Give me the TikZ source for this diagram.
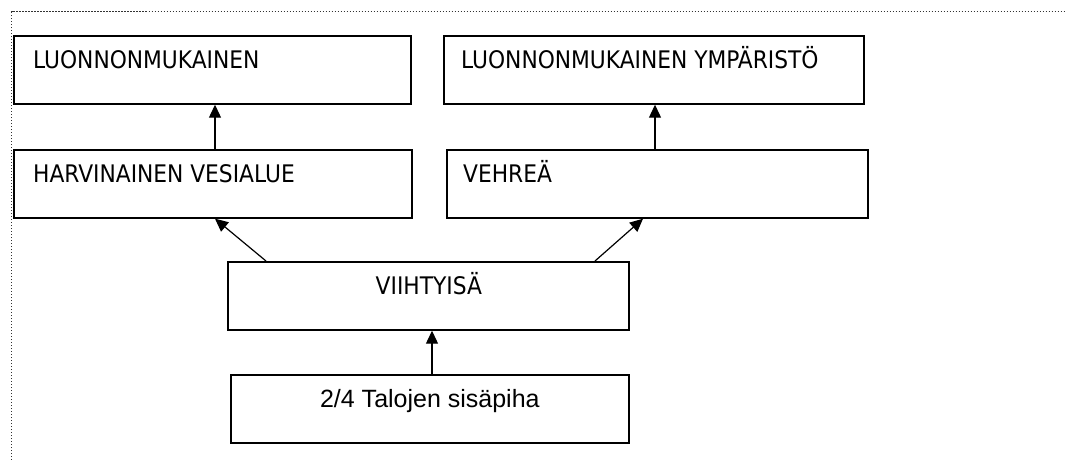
\documentclass[tikz,border=0pt]{standalone}
\usepackage{fontspec}
\usetikzlibrary{arrows.meta,calc}
\newfontfamily\boxfont{DejaVu Sans Condensed}
\newfontfamily\arialfont{Liberation Sans}
\begin{document}
\begin{tikzpicture}[x=1pt,y=-1pt,
  box/.style={draw=black,line width=1.7pt,rectangle,anchor=north west,inner sep=0pt,minimum height=68pt},
  lbl/.style={inner sep=0pt,font=\boxfont\fontsize{24.2}{27}\selectfont},
  albl/.style={inner sep=0pt,font=\arialfont\fontsize{25}{28}\selectfont},
  arr/.style={line width=1.2pt,-{Triangle[length=13pt,width=12pt]}},
  frame/.style={draw=black!80,line width=1pt,dash pattern=on 1.2pt off 1.8pt}]
\useasboundingbox (0,0) rectangle (1065,460);
\draw[frame] (11.5,460) -- (11.5,12) -- (1065,12);
% boxes
\node[box,minimum width=397pt] (l) at (13,35) {};
\node[box,minimum width=398pt] (h) at (13,149) {};
\node[box,minimum width=420pt] (y) at (443,35) {};
\node[box,minimum width=421pt] (v) at (446,149) {};
\node[box,minimum width=401pt] (w) at (227,261) {};
\node[box,minimum width=398pt] (t) at (230,374) {};
% labels
\node[lbl,anchor=base west] (lt) at ($(l.north west)+(20,33)$) {LUONNONMUKAINEN};
\node[lbl,anchor=base west] (ht) at ($(h.north west)+(20,33)$) {HARVINAINEN VESIALUE};
\node[lbl,anchor=base west] (yt) at ($(y.north west)+(18,33)$) {LUONNONMUKAINEN YMPÄRISTÖ};
\node[lbl,anchor=base west] (vt) at ($(v.north west)+(17,33)$) {VEHREÄ};
\node[lbl,anchor=base] (wt) at ($(w.north)+(0.5,33)$) {VIIHTYISÄ};
\node[albl,anchor=base] (tt) at ($(t.north)+(0,33)$) {2/4 Talojen sisäpiha};
% connectors
\coordinate (hup) at ($(h.north west)+(202,0)$);
\coordinate (vup) at ($(v.north west)+(209,0)$);
\coordinate (tup) at ($(t.north west)+(202,0)$);
\draw[arr] (hup) -- (hup |- l.south);
\draw[arr] (vup) -- (vup |- y.south);
\draw[arr] (tup) -- (tup |- w.south);
\coordinate (wl) at ($(w.north west)+(39,0)$);
\coordinate (wr) at ($(w.north west)+(368,0)$);
\draw[arr] (wl) -- ($(h.south west)+(202,0)$);
\draw[arr] (wr) -- ($(v.south west)+(197,0)$);
\end{tikzpicture}
\end{document}
